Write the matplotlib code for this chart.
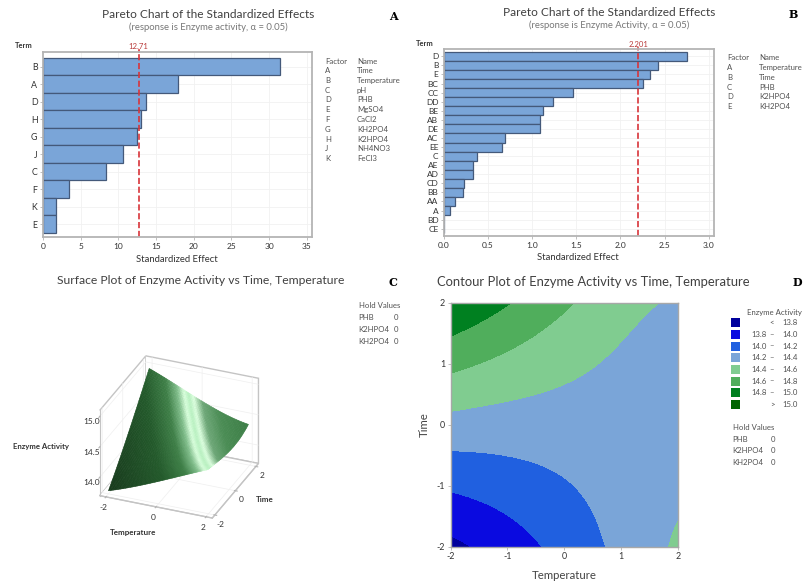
#!/usr/bin/python

import numpy as np
import matplotlib
matplotlib.use('Agg')
import matplotlib.pyplot as plt
from matplotlib.colors import LinearSegmentedColormap
from matplotlib.patches import Rectangle

W, H = 804, 584
plt.rcParams['font.family'] = ['Lato', 'DejaVu Sans']
plt.rcParams['axes.unicode_minus'] = False

# Panel A
terms_a = ['B', 'A', 'D', 'H', 'G', 'J', 'C', 'F', 'K', 'E']
effects_a = [31.45, 17.94, 13.73, 12.94, 12.49, 10.63, 8.33, 3.5, 1.77, 1.68]
limit_a = 12.71
factors_a = ['A', 'B', 'C', 'D', 'E', 'F', 'G', 'H', 'J', 'K']
names_a = ['Time', 'Temperature', 'pH', 'PHB', 'MgSO4', 'CaCl2', 'KH2PO4', 'K2HPO4', 'NH4NO3', 'FeCl3']

# Panel B
terms_b = ['D', 'B', 'E', 'BC', 'CC', 'DD', 'BE', 'AB', 'DE', 'AC', 'EE', 'C', 'AE', 'AD', 'CD', 'BB', 'AA', 'A', 'BD', 'CE']
effects_b = [2.75, 2.43, 2.34, 2.26, 1.46, 1.23, 1.12, 1.09, 1.09, 0.69, 0.66, 0.37, 0.33, 0.325, 0.225, 0.21, 0.12, 0.065, 0.005, 0.003]
limit_b = 2.201
factors_b = ['A', 'B', 'C', 'D', 'E']
names_b = ['Temperature', 'Time', 'PHB', 'K2HPO4', 'KH2PO4']

# Panels C and D, activity read off the contour bands
# one row per temperature, one column per time
temperature = [-2, -1.5, -1, -0.5, 0, 0.5, 1, 1.5, 2]
time = [-2, -1.5, -1, -0.5, 0, 0.5, 1, 1.5, 2]
activity = [
    [13.75, 13.89, 14.03, 14.18, 14.33, 14.49, 14.65, 14.82, 14.98],
    [13.82, 13.94, 14.06, 14.18, 14.32, 14.46, 14.59, 14.75, 14.90],
    [13.90, 13.99, 14.10, 14.20, 14.31, 14.43, 14.55, 14.67, 14.81],
    [13.98, 14.06, 14.14, 14.22, 14.31, 14.40, 14.50, 14.61, 14.72],
    [14.07, 14.13, 14.19, 14.25, 14.31, 14.37, 14.45, 14.54, 14.63],
    [14.16, 14.19, 14.23, 14.27, 14.31, 14.35, 14.41, 14.47, 14.55],
    [14.25, 14.26, 14.27, 14.29, 14.31, 14.33, 14.37, 14.41, 14.47],
    [14.34, 14.33, 14.32, 14.31, 14.31, 14.32, 14.33, 14.37, 14.42],
    [14.43, 14.39, 14.36, 14.33, 14.31, 14.30, 14.30, 14.32, 14.38],
]
levels = [10, 13.8, 14.0, 14.2, 14.4, 14.6, 14.8, 15.0, 20]
band_colors = ['#00009c', '#0a0ae0', '#2060e0', '#7aa5d8', '#80cc90', '#50ae5c', '#008020', '#006400']
band_low = ['', '13.8', '14.0', '14.2', '14.4', '14.6', '14.8', '']
band_high = ['13.8', '14.0', '14.2', '14.4', '14.6', '14.8', '15.0', '15.0']
hold_names = ['PHB', 'K2HPO4', 'KH2PO4']

TITLE = '#404040'
TEXT = '#505050'
EDGE = '#b4b4b4'
BAR = '#7aa5d8'
BAR_EDGE = '#44597a'
RED = '#d8343a'


def add_axes_px(fig, left, top, right, bottom, **kw):
    return fig.add_axes([left / W, 1 - bottom / H, (right - left) / W, (bottom - top) / H], **kw)


def label(fig, x, y, s, size=5.6, color=TEXT, ha='left', **kw):
    fig.text(x / W, 1 - y / H, s, fontsize=size, color=color, ha=ha, va='center', **kw)


def pareto(fig, box, terms, effects, limit, xlim, ylim, xticks, xfmt, tick_size):
    ax = add_axes_px(fig, *box)
    pos = np.arange(len(terms))
    ax.grid(color='#f1f1f1', linewidth=0.6)
    ax.set_axisbelow(True)
    ax.barh(pos, effects, height=1.0, color=BAR, edgecolor=BAR_EDGE, linewidth=0.9)
    ax.axvline(limit, color=RED, linestyle='--', linewidth=1.2, zorder=1.5)
    ax.plot([limit, limit], [ylim[1], ylim[1] - 0.1], color=RED, linewidth=1.2, clip_on=False)
    ax.text(limit, ylim[1] - 0.14, limit, color='#b83a3a', fontsize=5.6, ha='center', va='bottom')
    ax.set_xlim(*xlim)
    ax.set_ylim(*ylim)
    ax.set_yticks(pos)
    ax.set_yticklabels(terms, fontsize=tick_size, color='#333333')
    ax.set_xticks(xticks)
    ax.set_xticklabels([xfmt % t for t in xticks], fontsize=6, color='#333333')
    ax.tick_params(length=2, width=0.6, color=EDGE, pad=2)
    for s in ax.spines.values():
        s.set_color(EDGE)
        s.set_linewidth(1.3)
    return ax


def factor_table(fig, x1, x2, y0, factors, names):
    label(fig, x1, y0, 'Factor')
    label(fig, x2, y0, 'Name')
    for i in range(len(factors)):
        label(fig, x1, y0 + (i + 1) * 9.75, factors[i])
        label(fig, x2, y0 + (i + 1) * 9.75, names[i])


# least squares cubic through the read values, only to get smooth curves
def smooth_surface(tg, yg):
    tt, yy = np.meshgrid(temperature, time, indexing='ij')
    powers = [(i, j) for i in range(4) for j in range(4)]
    design = np.column_stack([tt.ravel() ** i * yy.ravel() ** j for i, j in powers])
    coef = np.linalg.lstsq(design, np.array(activity).ravel(), rcond=None)[0]
    return sum(c * tg ** i * yg ** j for c, (i, j) in zip(coef, powers))


def main():
    fig = plt.figure(figsize=(W / 100, H / 100), dpi=100)

    # A
    label(fig, 208, 14, 'Pareto Chart of the Standardized Effects', size=8.6, color=TITLE, ha='center')
    label(fig, 208, 27, '(response is Enzyme activity, \u03b1 = 0.05)', size=6.8, color='#777777', ha='center')
    label(fig, 393, 16, 'A', size=8, color='black', ha='center', family='DejaVu Serif', weight='bold')
    label(fig, 24, 46, 'Term', size=5.4, color='#333333', ha='center', weight='bold')
    pareto(fig, (43, 52, 312, 237), terms_a, effects_a, limit_a, (0, 35.7), (9.73, -0.84),
           range(0, 36, 5), '%d', 6.4)
    label(fig, 177, 259, 'Standardized Effect', size=6.8, color='#333333', ha='center')
    factor_table(fig, 325, 357, 61, factors_a, names_a)

    # B
    label(fig, 609, 12, 'Pareto Chart of the Standardized Effects', size=8.6, color=TITLE, ha='center')
    label(fig, 609, 25, '(response is Enzyme Activity, \u03b1 = 0.05)', size=6.8, color='#777777', ha='center')
    label(fig, 793, 15, 'B', size=8, color='black', ha='center', family='DejaVu Serif', weight='bold')
    label(fig, 425, 43, 'Term', size=5.4, color='#333333', ha='center', weight='bold')
    pareto(fig, (444, 49, 714, 236), terms_b, effects_b, limit_b, (0, 3.06), (19.81, -0.81),
           [0, 0.5, 1, 1.5, 2, 2.5, 3], '%.1f', 6)
    label(fig, 578, 258, 'Standardized Effect', size=6.8, color='#333333', ha='center')
    factor_table(fig, 727, 759, 58, factors_b, names_b)

    tf = np.linspace(-2, 2, 120)
    X, Y = np.meshgrid(tf, tf, indexing='ij')
    Z = smooth_surface(X, Y)

    # C
    label(fig, 201, 281, 'Surface Plot of Enzyme Activity vs Time, Temperature', size=8.7, color=TITLE, ha='center')
    label(fig, 393, 283, 'C', size=8, color='black', ha='center', family='DejaVu Serif', weight='bold')
    label(fig, 359, 306, 'Hold Values')
    for i in range(3):
        label(fig, 358, 318 + i * 11.7, hold_names[i])
        label(fig, 396, 318 + i * 11.7, '0', ha='center')

    ax3 = add_axes_px(fig, 25, 291, 325, 591, projection='3d')
    ax3.set_proj_type('ortho')
    ax3.view_init(elev=29, azim=-67.7)
    ax3.set_box_aspect((1, 1, 0.8), zoom=0.64)
    ax3.patch.set_alpha(0)
    # bright band runs across the sheet, this just fakes the minitab lighting
    shade = LinearSegmentedColormap.from_list('sheen', [
        (0.00, '#173a1c'), (0.33, '#235a2b'), (0.47, '#3f8048'), (0.54, '#7dbb88'),
        (0.585, '#d8ffdc'), (0.615, '#b8f0c0'), (0.645, '#dcffdf'), (0.70, '#6ea878'),
        (0.80, '#4b8d55'), (1.00, '#3a7c44')])
    xs, ys = X[::2, ::2], Y[::2, ::2]
    cols = shade((xs + 0.625 * ys + 3.25) / 6.5)
    ax3.plot_surface(xs, ys, Z[::2, ::2], facecolors=cols, rstride=1, cstride=1,
                     linewidth=0.4, antialiased=True, shade=False)
    ax3.set_xlim(-2.25, 2.25)
    ax3.set_ylim(-2.25, 2.25)
    ax3.set_zlim(13.7, 15.1)
    ax3.set_xticks([-2, 0, 2])
    ax3.set_yticks([-2, 0, 2])
    ax3.set_zticks([14, 14.5, 15])
    ax3.set_zticklabels(['14.0', '14.5', '15.0'])
    ax3.zaxis.set_ticks_position('lower')
    ax3.tick_params(labelsize=6, labelcolor='#333333', pad=-2, color=EDGE)
    for a in (ax3.xaxis, ax3.yaxis, ax3.zaxis):
        a.set_pane_color((1, 1, 1, 1))
        a.pane.set_edgecolor('#c4c4c4')
        a.line.set_color('#c4c4c4')
        a._axinfo['grid']['color'] = '#efefef'
        a._axinfo['grid']['linewidth'] = 0.5
    label(fig, 133, 533, 'Temperature', size=5.8, color='#333333', ha='center', weight='bold')
    label(fig, 265, 500, 'Time', size=5.8, color='#333333', ha='center', weight='bold')
    label(fig, 41, 447, 'Enzyme Activity', size=5.6, color='#333333', ha='center', weight='bold')

    # D
    label(fig, 593, 282, 'Contour Plot of Enzyme Activity vs Time, Temperature', size=9.4, color=TITLE, ha='center')
    label(fig, 797, 283, 'D', size=8, color='black', ha='center', family='DejaVu Serif', weight='bold')
    ax = add_axes_px(fig, 450.7, 302.7, 677.7, 546.7)
    ax.contourf(X, Y, Z, levels=levels, colors=band_colors)
    ax.set_xlim(-2, 2)
    ax.set_ylim(-2, 2)
    ax.set_xticks([-2, -1, 0, 1, 2])
    ax.set_yticks([-2, -1, 0, 1, 2])
    ax.tick_params(labelsize=6.4, labelcolor='#333333', length=2, width=0.6, color=EDGE, pad=2)
    ax.set_xlabel('Temperature', fontsize=8.2, color='#444444', labelpad=6)
    ax.set_ylabel('Time', fontsize=8.2, color='#444444', labelpad=5)
    for sp in ax.spines.values():
        sp.set_color('#a8a8a8')
        sp.set_linewidth(1.0)

    label(fig, 774, 312, 'Enzyme Activity', ha='center')
    for i in range(8):
        y = 322.7 + i * 11.67
        fig.patches.append(Rectangle((731 / W, 1 - (y + 4.5) / H), 9 / W, 9 / H, transform=fig.transFigure,
                                     facecolor=band_colors[i], edgecolor='none'))
        if band_low[i]:
            label(fig, 751, y, band_low[i])
            label(fig, 772, y, '\u2013', ha='center')
        elif i == 0:
            label(fig, 772, y, '<', ha='center')
        else:
            label(fig, 772, y, '>', ha='center')
        label(fig, 782, y, band_high[i])
    label(fig, 733, 427, 'Hold Values')
    for i in range(3):
        label(fig, 732, 439 + i * 11.7, hold_names[i])
        label(fig, 773, 439 + i * 11.7, '0', ha='center')

    fig.savefig('out.png', dpi=100)


if __name__ == '__main__':
    main()
